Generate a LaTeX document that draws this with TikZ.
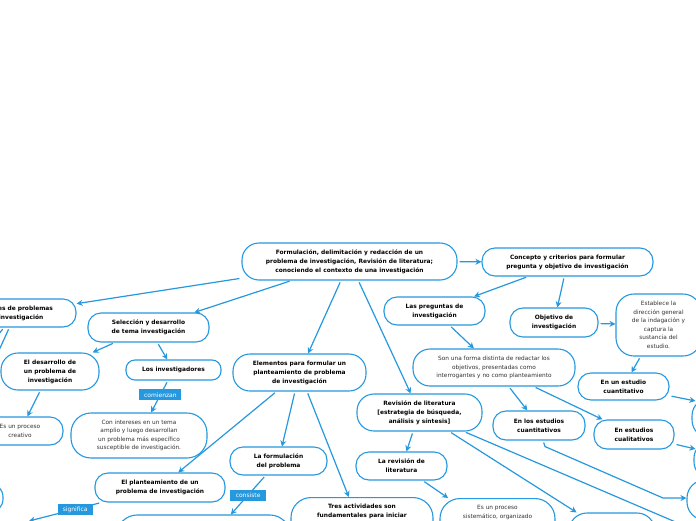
\documentclass[tikz,border=0pt]{standalone}
\usepackage{fontspec}
\setmainfont{DejaVu Sans}
\usetikzlibrary{arrows.meta,calc}
\definecolor{mblue}{HTML}{2698DE}
\definecolor{stxt}{HTML}{333333}
\tikzset{
  box/.style={draw=mblue, line width=1.1pt, fill=white, rounded corners=13pt, align=center,
    inner sep=0pt, font=\fontsize{5.9}{9}\selectfont\bfseries},
  sbox/.style={box, text=stxt, font=\fontsize{5.8}{8.5}\selectfont},
  conn/.style={draw=mblue, line width=1.2pt, -{Stealth[length=6pt,width=6pt]}, shorten <=2pt},
  plainline/.style={draw=mblue, line width=1.2pt, shorten <=2pt},
  lab/.style={fill=mblue, text=white, font=\fontsize{6}{7}\selectfont, inner sep=0pt,
    minimum height=11pt, text depth=0pt}
}
\begin{document}
\begin{tikzpicture}[x=1pt,y=-1pt]
\useasboundingbox (0,0) rectangle (696,520);
\clip (0,0) rectangle (696,520);

\node[box, minimum width=215pt, minimum height=37pt, rounded corners=17pt] (main) at (349.5,261.5)
 {Formulación, delimitación y redacción de un\\problema de investigación, Revisión de literatura;\\conociendo el contexto de una investigación};
\node[box, minimum width=171pt, minimum height=28pt] (concepto) at (567.5,262)
 {Concepto y criterios para formular\\pregunta y objetivo de investigación};
\node[box, minimum width=120pt, minimum height=28pt] (fuentes) at (16,313)
 {Fuentes de problemas\\de investigación};
\node[box, minimum width=121pt, minimum height=29pt] (seleccion) at (148.5,327.5)
 {Selección y desarrollo\\de tema investigación};
\node[box, minimum width=101pt, minimum height=28pt] (preguntas) at (434.5,311)
 {Las preguntas de\\investigación};
\node[box, minimum width=88pt, minimum height=29pt] (objetivo) at (554,322.5)
 {Objetivo de\\investigación};
\node[sbox, minimum width=85pt, minimum height=62pt, rounded corners=18pt] (establece) at (658.5,325)
 {Establece la\\dirección general\\de la indagación y\\captura la\\sustancia del\\estudio.};
\node[box, minimum width=98pt, minimum height=37pt, rounded corners=17pt] (desarrollo) at (50,371.5)
 {El desarrollo de\\un problema de\\investigación};
\node[box, minimum width=95pt, minimum height=20pt, rounded corners=9pt] (losinv) at (173.5,370)
 {Los investigadores};
\node[box, minimum width=133pt, minimum height=37pt, rounded corners=17pt] (elementos) at (299.5,372.5)
 {Elementos para formular un\\planteamiento de problema\\de investigación};
\node[sbox, minimum width=162pt, minimum height=37pt, rounded corners=17pt] (son) at (494,367.5)
 {Son una forma distinta de redactar los\\objetivos, presentadas como\\interrogantes y no como planteamiento};
\node[box, minimum width=91pt, minimum height=27pt] (cuanti1) at (623.5,386.5)
 {En un estudio\\cuantitativo};
\node[box, minimum width=125pt, minimum height=37pt, rounded corners=17pt] (revision) at (419.5,412.5)
 {Revisión de literatura\\{[}estrategia de búsqueda,\\análisis y síntesis{]}};
\node[box, minimum width=92pt, minimum height=29pt] (cuanti2) at (539,425.5)
 {En los estudios\\cuantitativos};
\node[box, minimum width=80pt, minimum height=29pt] (cuali) at (634,434.5)
 {En estudios\\cualitativos};
\node[sbox, minimum width=86pt, minimum height=28pt] (creativo) at (20,431)
 {Es un proceso\\creativo};
\node[sbox, minimum width=136pt, minimum height=45pt, rounded corners=20pt] (conint) at (139,435.5)
 {Con intereses en un tema\\amplio y luego desarrollan\\un problema más específico\\susceptible de investigación.};
\node[box, minimum width=97pt, minimum height=28pt] (formul) at (278.5,461)
 {La formulación\\del problema};
\node[box, minimum width=91pt, minimum height=28pt] (revlit) at (401.5,466)
 {La revisión de\\literatura};
\node[box, minimum width=130pt, minimum height=29pt] (plant) at (160,487.5)
 {El planteamiento de un\\problema de investigación};
\node[box, minimum width=142pt, anchor=north, inner ysep=6pt, text depth=40pt, rounded corners=20pt] (tres) at (362,497)
 {Tres actividades son\\fundamentales para iniciar};
\node[sbox, minimum width=115pt, anchor=north, inner ysep=7pt, text depth=40pt, rounded corners=20pt] (sist) at (497.5,498)
 {Es un proceso\\sistemático, organizado};
\node[box, minimum width=173pt, minimum height=60pt, rounded corners=20pt] (bl) at (203.5,545) {};
\node[box, minimum width=86pt, minimum height=44pt, rounded corners=18pt] (br) at (612,535) {};
\node[box, minimum width=136pt, minimum height=40pt, rounded corners=18pt] (r1) at (760,418) {};
\node[box, minimum width=132pt, minimum height=36pt, rounded corners=16pt] (r2) at (760,460) {};
\node[box, minimum width=146pt, minimum height=40pt, rounded corners=18pt] (r3) at (760,500) {};
\node[box, minimum width=86pt, minimum height=30pt, rounded corners=14pt] (l1) at (-40,498) {};

\coordinate (r1t) at ($(r1.west)+(4,-17)$);
\coordinate (r2t) at ($(r2.west)+(2,-11)$);
\coordinate (bend) at (663,498);
\coordinate (rfar) at (720,541);
\coordinate (sigt) at (29,521);
\coordinate (fa) at (-20,392);
\coordinate (fb) at (-30,369);

\draw[conn] (main) -- (concepto);
\draw[conn] (main) -- (fuentes);
\draw[conn] (main) -- (seleccion);
\draw[conn] (main) -- (elementos);
\draw[conn] (main) -- (revision);
\draw[conn] (concepto) -- (preguntas);
\draw[conn] (concepto) -- (objetivo);
\draw[conn] (objetivo) -- (establece);
\draw[conn] (establece) -- (cuanti1);
\draw[conn] (cuanti1) -- (r1t);
\draw[conn] (preguntas) -- (son);
\draw[conn] (son) -- (cuanti2);
\draw[conn] (son) -- (cuali);
\draw[conn] (cuali) -- (r2t);
\draw[conn] ($(cuanti2.south)+(4,0)$) -- ++(2,6) -- (bend) -- (r3.west |- bend);
\draw[conn] (revision) -- (revlit);
\draw[conn] (revision) -- (br);
\draw[conn] (revision) -- (rfar);
\draw[conn] (revlit) -- (sist);
\draw[conn] (elementos) -- (formul);
\draw[conn] (elementos) -- (tres);
\draw[conn] (elementos) -- (plant);
\draw[conn] (formul) -- node[lab, minimum width=36pt] {consiste} (bl);
\draw[conn] (plant) -- node[lab, pos=.36, minimum width=35pt] {significa} (sigt);
\draw[conn] (seleccion) -- (desarrollo);
\draw[conn] (seleccion) -- (losinv);
\draw[conn] (losinv) -- node[lab, pos=.45, minimum width=42pt] {comienzan} (conint);
\draw[conn] (desarrollo) -- (creativo);
\draw[plainline] (fuentes) -- (fa);
\draw[plainline] (fuentes) -- (fb);
\end{tikzpicture}
\end{document}
